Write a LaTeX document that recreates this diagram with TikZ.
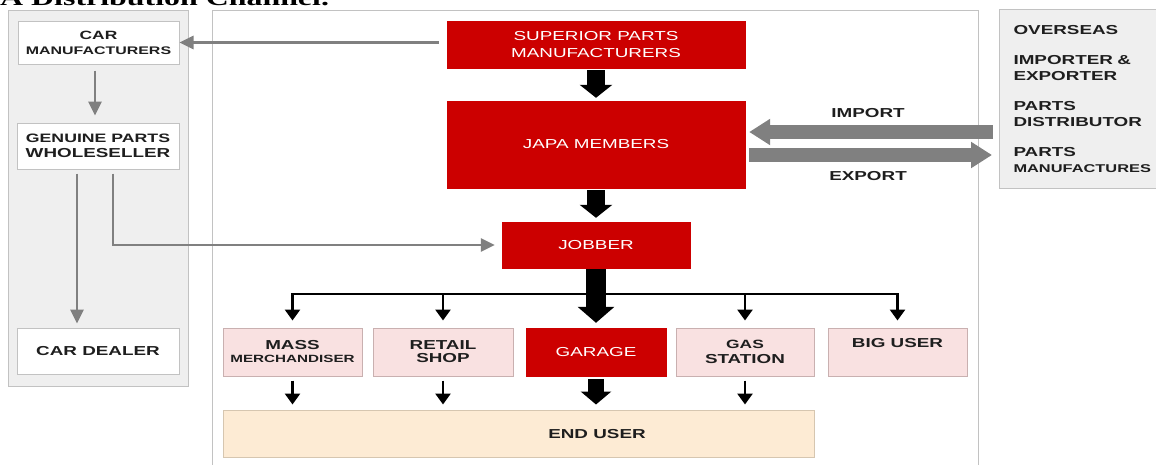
\documentclass[tikz,border=0pt]{standalone}
\usepackage{fontspec}
\setmainfont{Liberation Sans}
\newfontfamily\df[FakeStretch=1.45]{Liberation Sans}
\newfontfamily\tf[FakeStretch=1.45]{Liberation Serif}
\usetikzlibrary{arrows.meta}
\definecolor{jred}{HTML}{CC0000}
\definecolor{jpink}{HTML}{F9E1E1}
\definecolor{pinkedge}{HTML}{C9B0B0}
\definecolor{jpeach}{HTML}{FDEBD4}
\definecolor{peachedge}{HTML}{D6C6B0}
\definecolor{pgray}{HTML}{EFEFEF}
\definecolor{pedge}{HTML}{C2C2C2}
\definecolor{agray}{HTML}{808080}
\definecolor{txt}{HTML}{1E1E1E}
\tikzset{
  box/.style={rectangle, inner sep=0pt, align=center, text=txt,
    font=\df\bfseries\fontsize{13}{15}\selectfont},
  whitebox/.style={box, fill=white, draw=pedge, line width=1pt},
  redbox/.style={box, fill=jred, draw=jred, text=white,
    font=\df\fontsize{13}{16.5}\selectfont},
  pinkbox/.style={box, fill=jpink, draw=pinkedge, line width=1pt},
  panel/.style={rectangle, inner sep=0pt, fill=pgray, draw=pedge, line width=1pt},
  lbl/.style={inner sep=0pt, text=txt, font=\df\bfseries\fontsize{13}{15}\selectfont},
  garrow/.style={draw=agray, line width=2.6pt, -{Triangle[length=14pt,width=13pt]}},
  tarrow/.style={draw=black, line width=2.8pt, -{Triangle[length=11pt,width=15pt]}},
  fatarrow/.style={draw=black, line width=18pt, -{Triangle[length=13pt,width=32pt]}},
  fatgray/.style={draw=agray, line width=14pt, -{Triangle[length=21pt,width=25pt]}}
}
\begin{document}
\begin{tikzpicture}[x=1pt,y=-1pt]
\useasboundingbox (0,0) rectangle (1156,464);
% title (cut off at the top)
\node[anchor=base west, inner sep=0pt, text=black,
  font=\tf\bfseries\fontsize{22}{24}\selectfont] (title) at (0,5.5) {A Distribution Channel.};
% panels
\node[panel, anchor=north west, minimum width=180pt, minimum height=376pt] (lpanel) at (8,10) {};
\draw[draw=pedge, line width=1pt] (212,475) -- (212,10) -- (978,10) -- (978,475);
\node[panel, anchor=north west, minimum width=161pt, minimum height=179pt,
  align=left, text width=133pt, inner xsep=14pt, text=txt,
  font=\df\bfseries\fontsize{13}{16}\selectfont] (rpanel) at (999,9)
  {OVERSEAS\\[14pt]IMPORTER \&\\EXPORTER\\[14pt]PARTS\\DISTRIBUTOR\\[14pt]PARTS\\{\fontsize{11.3}{16}\selectfont MANUFACTURES}};
% left column
\node[whitebox, minimum width=161pt, minimum height=43pt] (carman) at (98.5,42.5)
  {{\fontsize{12}{14}\selectfont CAR}\\{\fontsize{11}{14}\selectfont MANUFACTURERS}};
\node[whitebox, minimum width=162pt, minimum height=46pt] (whole) at (98,146)
  {{\fontsize{12.2}{15}\selectfont GENUINE PARTS}\\WHOLESELLER};
\node[whitebox, minimum width=162pt, minimum height=46pt] (dealer) at (98,351) {CAR DEALER};
% centre column
\node[redbox, minimum width=298pt, minimum height=47pt] (sup) at (596,44.5)
  {SUPERIOR PARTS\\MANUFACTURERS};
\node[redbox, minimum width=298pt, minimum height=87pt] (japa) at (596,144.5) {JAPA MEMBERS};
\node[redbox, minimum width=188pt, minimum height=46pt] (jobber) at (596,245) {JOBBER};
\node[pinkbox, minimum width=139pt, minimum height=48pt] (mass) at (292.5,352)
  {MASS\\[-2pt]{\fontsize{10.5}{13}\selectfont MERCHANDISER}};
\node[pinkbox, minimum width=140pt, minimum height=48pt] (retail) at (443,352)
  {RETAIL\\[-2pt]SHOP};
\node[redbox, minimum width=140pt, minimum height=48pt] (garage) at (596,352) {GARAGE};
\node[pinkbox, minimum width=138pt, minimum height=48pt] (gas) at (745,352)
  {\fontsize{12}{13}\selectfont GAS\\STATION};
\node[pinkbox, minimum width=139pt, minimum height=48pt] (big) at (897.5,352)
  {BIG USER\\[4pt]~};
\node[box, fill=jpeach, draw=peachedge, line width=1pt, minimum width=591pt,
  minimum height=47pt] (enduser) at (518.5,433.5) {};
\node[lbl] (endtext) at (597,434.5) {END USER};
% import / export
\coordinate (imp) at (870,132);
\coordinate (exp) at (870,155);
\draw[fatgray, shorten <=6pt, shorten >=4pt] (rpanel.west |- imp) -- (japa.east |- imp);
\draw[fatgray, shorten <=4pt, shorten >=7pt] (japa.east |- exp) -- (rpanel.west |- exp);
\node[lbl] (implbl) at (868,113) {IMPORT};
\node[lbl] (explbl) at (868,176) {EXPORT};
% gray connectors
\draw[garrow, shorten <=8pt] (sup.west |- carman.east) -- (carman.east);
\draw[garrow, shorten <=6pt, shorten >=7pt] ([xshift=-3.5pt]carman.south) -- ([xshift=-3pt]whole.north);
\draw[garrow, shorten <=4pt, shorten >=4pt] ([xshift=-21pt]whole.south) -- ([xshift=-21pt]dealer.north);
\draw[garrow, shorten <=4pt, shorten >=7pt] ([xshift=15pt]whole.south) |- (jobber.west);
% black connectors
\draw[fatarrow, shorten <=2pt, shorten >=3pt] (sup.south) -- (japa.north);
\draw[fatarrow, shorten <=2pt, shorten >=4pt] (japa.south) -- (jobber.north);
\draw[draw=black, line width=20pt, -{Triangle[length=16pt,width=36pt]}, shorten <=1pt, shorten >=5pt] (jobber.south) -- (garage.north);
\draw[draw=black, line width=16pt, -{Triangle[length=13pt,width=30pt]}, shorten <=3pt, shorten >=5pt] (garage.south) -- (enduser.north -| garage.south);
\coordinate (bus) at (596,294);
\draw[tarrow, shorten >=7pt] (bus) -| (mass.north);
\draw[tarrow, shorten >=7pt] (bus) -| (retail.north);
\draw[tarrow, shorten >=7pt] (bus) -| (gas.north);
\draw[tarrow, shorten >=7pt] (bus) -| (big.north);
\draw[tarrow, shorten <=4pt, shorten >=5pt] (mass.south) -- (enduser.north -| mass.south);
\draw[tarrow, shorten <=4pt, shorten >=5pt] (retail.south) -- (enduser.north -| retail.south);
\draw[tarrow, shorten <=4pt, shorten >=5pt] (gas.south) -- (enduser.north -| gas.south);
\end{tikzpicture}
\end{document}
